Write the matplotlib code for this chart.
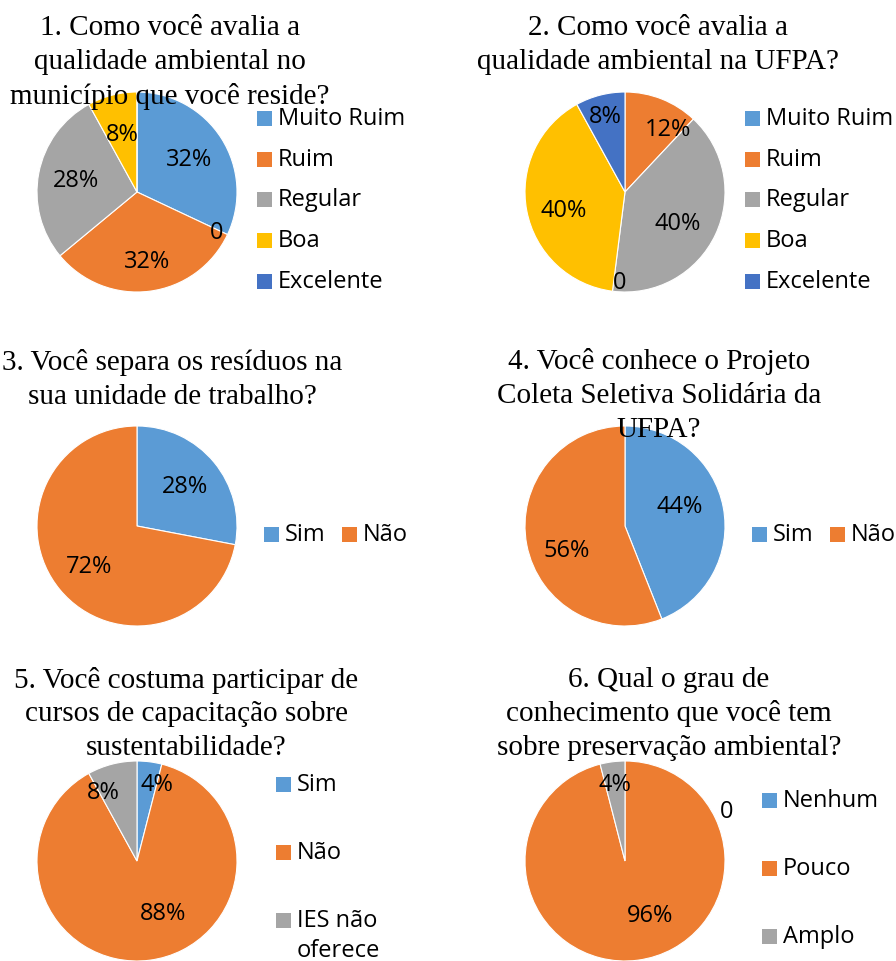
import matplotlib
matplotlib.use("Agg")
import matplotlib.pyplot as plt
from matplotlib.patches import Rectangle
import numpy as np

# ---------------- data ----------------
titles = [
    "1. Como você avalia a\nqualidade ambiental no\nmunicípio que você reside?",
    "2. Como você avalia a\nqualidade ambiental na UFPA?",
    "3. Você separa os resíduos na\nsua unidade de trabalho?",
    "4. Você conhece o Projeto\nColeta Seletiva Solidária da\nUFPA?",
    "5. Você costuma participar de\ncursos de capacitação sobre\nsustentabilidade?",
    "6. Qual o grau de\nconhecimento que você tem\nsobre preservação ambiental?",
]
cats_quality = ["Muito Ruim", "Ruim", "Regular", "Boa", "Excelente"]
cats_yesno = ["Sim", "Não"]
cats_courses = ["Sim", "Não", "IES não\noferece"]
cats_knowledge = ["Nenhum", "Pouco", "Amplo"]

vals1 = [32, 32, 28, 8, 0]
vals2 = [0, 12, 40, 40, 8]
vals3 = [28, 72]
vals4 = [44, 56]
vals5 = [4, 88, 8]
vals6 = [0, 96, 4]

# ---------------- style / layout ----------------
colors = ["#5B9BD5", "#ED7D31", "#A5A5A5", "#FFC000", "#4472C4"]
W, H = 896, 962
SERIF = ["Liberation Serif", "DejaVu Serif"]
SANS = ["Open Sans", "DejaVu Sans"]
TFS = 21
LFS = 17

fig = plt.figure(figsize=(W / 100, H / 100), dpi=100)

charts = [
    dict(cats=cats_quality, vals=vals1, c=(137, 193), title_xy=(170, 28),
         leg=dict(kind="v", x=257, ys=[119, 160, 200, 241, 282]), zero=(0.80, -0.40),
         nudge={1: (0.02, -0.07), 3: (0.05, -0.18)}),
    dict(cats=cats_quality, vals=vals2, c=(625, 193), title_xy=(658, 28),
         leg=dict(kind="v", x=745, ys=[119, 160, 200, 241, 282]), zero=(-0.05, -0.90),
         nudge={1: (0.14, -0.10), 2: (-0.03, -0.05), 3: (0.0, -0.06)}),
    dict(cats=cats_yesno, vals=vals3, c=(137, 527), title_xy=(172, 363),
         leg=dict(kind="h", xs=[264, 342], y=535), zero=None, nudge={}),
    dict(cats=cats_yesno, vals=vals4, c=(625, 527), title_xy=(659, 362),
         leg=dict(kind="h", xs=[752, 830], y=535), zero=None,
         nudge={0: (-0.06, 0.08), 1: (0.03, -0.12)}),
    dict(cats=cats_courses, vals=vals5, c=(137, 862), title_xy=(186, 680),
         leg=dict(kind="v", x=276, ys=[785, 853, 921]), zero=None,
         nudge={0: (0.10, 0.0), 1: (0.18, 0.10), 2: (-0.14, -0.07)}),
    dict(cats=cats_knowledge, vals=vals6, c=(625, 862), title_xy=(669, 680),
         leg=dict(kind="v", x=762, ys=[801, 869, 937]), zero=(1.02, 0.50),
         nudge={1: (0.17, 0.08)}),
]
R = 100
LINE = 34
SQ = 15
GAP = 6


def fx(x):
    return x / W


def fy(y):
    return 1 - y / H


for idx, ch in enumerate(charts):
    cx, cy = ch["c"]
    ax = fig.add_axes([fx(cx - R), fy(cy + R), 2 * R / W, 2 * R / H])
    vals = ch["vals"]
    wedges, _ = ax.pie(vals, colors=colors[:len(vals)], startangle=90,
                       counterclock=False,
                       wedgeprops=dict(edgecolor="white", linewidth=0.8))
    ax.set_xlim(-1, 1)
    ax.set_ylim(-1, 1)
    ax.set_aspect("equal")
    ax.axis("off")
    total = sum(vals)
    for k, (w, v) in enumerate(zip(wedges, vals)):
        if v <= 0:
            continue
        frac = v / total
        mid = np.deg2rad((w.theta1 + w.theta2) / 2)
        d = 0.78 if frac < 0.15 else 0.62
        dx, dy = ch["nudge"].get(k, (0.0, 0.0))
        ax.text(d * np.cos(mid) + dx, d * np.sin(mid) + dy, f"{round(100 * frac)}%",
                ha="center", va="center", fontsize=LFS, family=SANS, color="black")
    if ch["zero"] is not None:
        ax.text(ch["zero"][0], ch["zero"][1], "0", ha="center", va="center",
                fontsize=LFS, family=SANS, color="black")

    # title
    tx, ty = ch["title_xy"]
    for i, line in enumerate(titles[idx].split("\n")):
        fig.text(fx(tx), fy(ty + i * LINE), line, ha="center", va="center",
                 fontsize=TFS, family=SERIF, color="black", zorder=10)

    # legend
    leg = ch["leg"]
    cats = ch["cats"]
    if leg["kind"] == "v":
        pos = [(leg["x"], y) for y in leg["ys"]]
    else:
        pos = [(x, leg["y"]) for x in leg["xs"]]
    for k, ((lx, ly), name) in enumerate(zip(pos, cats)):
        fig.patches.append(Rectangle((fx(lx), fy(ly + SQ / 2)), SQ / W, SQ / H,
                                     transform=fig.transFigure, facecolor=colors[k],
                                     edgecolor="none"))
        for j, ln in enumerate(name.split("\n")):
            fig.text(fx(lx + SQ + GAP), fy(ly + j * 30), ln, ha="left", va="center",
                     fontsize=LFS, family=SANS, color="black")

fig.savefig("out.png", dpi=100)
